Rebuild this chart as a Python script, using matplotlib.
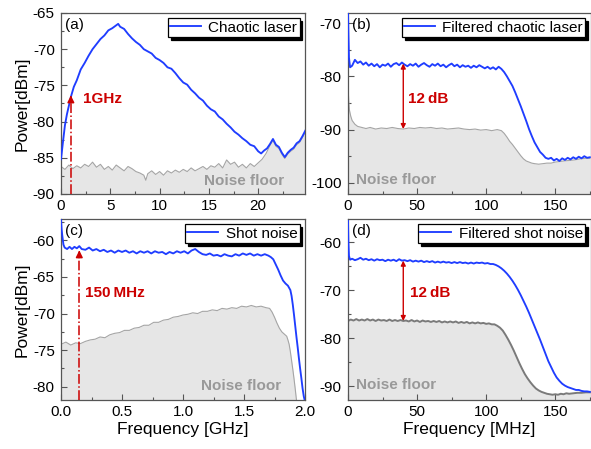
import numpy as np
import matplotlib
matplotlib.use("Agg")
import matplotlib.pyplot as plt
from matplotlib.ticker import MultipleLocator

plt.rcParams['font.family'] = ['Liberation Sans', 'DejaVu Sans']
plt.rcParams['axes.unicode_minus'] = False

# ---------------- data ----------------
a_laser = [(0,-85.2),(0.2,-82.8),(0.4,-80.5),(0.6,-79.0),(0.8,-77.8),(1.0,-76.6),(1.3,-75.2),(1.6,-74.3),
           (2.0,-72.8),(2.4,-71.9),(2.8,-70.9),(3.2,-70.0),(3.6,-69.3),(4.0,-68.6),(4.4,-68.1),(4.8,-67.4),
           (5.2,-67.1),(5.6,-66.7),(5.8,-66.5),(6.0,-66.9),(6.4,-67.2),(6.8,-67.9),(7.2,-68.5),(7.6,-69.0),
           (8.0,-69.4),(8.4,-70.0),(8.8,-70.3),(9.2,-70.6),(9.6,-71.2),(10.0,-71.5),(10.4,-71.9),(10.8,-72.5),
           (11.2,-72.7),(11.6,-73.3),(12.0,-74.0),(12.4,-74.6),(12.8,-74.9),(13.2,-75.6),(13.6,-76.1),(14.0,-76.7),
           (14.4,-77.1),(14.8,-77.8),(15.2,-78.3),(15.6,-78.6),(16.0,-79.3),(16.4,-79.7),(16.8,-80.3),(17.2,-80.8),
           (17.6,-81.4),(18.0,-81.8),(18.4,-82.3),(18.8,-82.7),(19.2,-83.2),(19.6,-83.4),(20.0,-84.1),(20.3,-84.4),
           (20.6,-84.0),(20.9,-83.7),(21.2,-83.1),(21.5,-82.4),(21.8,-83.2),(22.1,-83.5),(22.4,-84.3),(22.7,-84.9),
           (23.0,-84.3),(23.3,-83.9),(23.6,-83.6),(23.9,-83.0),(24.2,-82.7),(24.5,-82.0),(24.8,-81.2)]
a_noise = [(0,-86.2),(0.4,-86.6),(0.8,-86.0),(1.2,-86.5),(1.6,-86.1),(2.0,-86.4),(2.4,-85.9),(2.8,-86.2),
           (3.2,-85.6),(3.6,-86.3),(4.0,-85.9),(4.4,-86.6),(4.8,-86.2),(5.2,-86.7),(5.6,-86.0),(6.0,-86.4),
           (6.4,-86.8),(6.8,-86.2),(7.2,-86.5),(7.6,-86.9),(8.0,-87.1),(8.4,-87.4),(8.6,-88.1),(8.8,-87.2),
           (9.2,-86.8),(9.6,-87.3),(10.0,-86.9),(10.4,-87.4),(10.8,-86.8),(11.2,-87.1),(11.6,-86.7),(12.0,-87.0),
           (12.4,-86.6),(12.8,-86.9),(13.2,-86.4),(13.6,-86.8),(14.0,-86.5),(14.4,-86.2),(14.8,-86.6),(15.2,-86.1),
           (15.6,-86.3),(16.0,-85.8),(16.4,-86.4),(16.8,-85.3),(17.2,-85.9),(17.6,-85.6),(18.0,-86.3),(18.4,-85.9),
           (18.8,-86.4),(19.2,-85.8),(19.6,-86.2),(20.0,-85.7),(20.4,-85.2),(20.8,-84.4),(21.2,-83.3),(21.5,-82.6),
           (21.8,-83.4),(22.1,-83.7),(22.4,-84.5),(22.7,-85.1),(23.0,-84.5),(23.3,-84.1),(23.6,-83.8),(23.9,-83.2),
           (24.2,-82.9),(24.5,-82.2),(24.8,-81.4)]

b_laser = [(0,-68.0),(0.3,-72.0),(0.7,-76.5),(1.5,-78.3),(3,-78.0),(5,-76.9),(7,-77.5),(9,-77.2),(11,-77.8),
           (13,-77.4),(15,-78.0),(17,-77.6),(19,-78.1),(21,-77.7),(23,-78.3),(25,-77.8),(27,-78.0),(29,-77.6),
           (31,-78.2),(33,-77.7),(35,-77.5),(37,-77.9),(39,-77.4),(41,-77.8),(43,-78.1),(45,-77.7),(47,-78.0),
           (49,-77.6),(51,-78.2),(53,-77.8),(55,-77.5),(57,-77.9),(59,-78.2),(61,-77.7),(63,-78.0),(65,-77.6),
           (67,-78.1),(69,-77.8),(71,-78.3),(73,-77.9),(75,-77.6),(77,-78.1),(79,-77.8),(81,-78.3),(83,-77.9),
           (85,-78.2),(87,-78.0),(89,-78.4),(91,-78.0),(93,-78.3),(95,-77.9),(97,-78.2),(99,-78.5),(101,-78.2),
           (103,-78.6),(105,-78.3),(107,-78.7),(109,-78.2),(111,-78.6),(113,-79.2),(115,-80.0),(117,-80.9),
           (119,-81.8),(121,-83.0),(123,-84.3),(125,-85.6),(127,-87.0),(129,-88.4),(131,-89.9),(133,-91.2),
           (135,-92.4),(137,-93.3),(139,-94.2),(141,-94.7),(143,-95.3),(145,-95.5),(147,-95.3),(149,-95.8),
           (151,-95.5),(153,-95.9),(155,-95.4),(157,-95.7),(159,-95.3),(161,-95.6),(163,-95.2),(165,-95.5),
           (167,-95.1),(169,-95.4),(171,-95.0),(173,-95.3),(175,-95.2)]
b_noise = [(0,-81.5),(0.5,-84.5),(1,-86.3),(2,-87.5),(3,-88.3),(5,-89.0),(7,-89.4),(10,-89.6),(13,-89.8),
           (16,-89.6),(20,-89.9),(24,-89.7),(28,-89.8),(32,-89.6),(36,-89.8),(40,-89.9),(44,-89.7),(48,-89.8),
           (52,-89.6),(56,-89.7),(60,-89.6),(64,-89.8),(68,-89.7),(72,-89.9),(76,-89.8),(80,-89.7),(84,-89.9),
           (88,-90.0),(92,-89.9),(96,-90.1),(100,-90.0),(104,-90.2),(108,-90.0),(111,-90.2),(113,-90.7),
           (115,-91.4),(117,-92.2),(119,-92.8),(121,-93.5),(123,-94.2),(125,-94.9),(127,-95.5),(129,-95.9),
           (131,-96.1),(133,-96.3),(135,-96.4),(138,-96.5),(141,-96.4),(144,-96.3),(147,-96.3),(150,-96.1),
           (153,-96.0),(156,-95.9),(160,-95.8),(164,-95.7),(168,-95.5),(172,-95.4),(175,-95.4)]

c_shot = [(0,-57.2),(0.005,-58.5),(0.01,-59.3),(0.02,-60.6),(0.03,-61.0),(0.05,-61.2),(0.07,-60.9),(0.09,-61.2),
          (0.11,-60.9),(0.13,-61.1),(0.15,-60.8),(0.17,-61.2),(0.2,-61.3),(0.23,-61.0),(0.26,-61.4),(0.29,-61.2),
          (0.32,-61.5),(0.35,-61.3),(0.38,-61.6),(0.41,-61.4),(0.44,-61.7),(0.47,-61.4),(0.5,-61.6),(0.53,-61.4),
          (0.56,-61.7),(0.59,-61.5),(0.62,-61.8),(0.65,-61.5),(0.68,-61.7),(0.71,-61.5),(0.74,-61.8),(0.77,-61.5),
          (0.8,-61.7),(0.83,-61.6),(0.86,-61.9),(0.89,-61.6),(0.92,-61.8),(0.95,-61.5),(0.98,-61.7),(1.01,-61.5),
          (1.04,-61.8),(1.07,-61.4),(1.1,-61.2),(1.13,-61.6),(1.16,-61.9),(1.19,-62.0),(1.22,-61.8),(1.25,-62.1),
          (1.28,-62.0),(1.31,-62.2),(1.34,-61.9),(1.37,-62.1),(1.4,-62.2),(1.43,-61.9),(1.46,-62.1),(1.49,-61.8),
          (1.52,-62.0),(1.55,-61.8),(1.58,-62.1),(1.61,-61.9),(1.64,-62.1),(1.67,-61.9),(1.7,-62.1),(1.72,-62.3),
          (1.74,-62.6),(1.76,-63.3),(1.78,-64.0),(1.8,-64.8),(1.82,-65.5),(1.84,-65.9),(1.86,-66.2),(1.88,-66.8),
          (1.89,-67.6),(1.9,-68.8),(1.91,-70.2),(1.92,-71.7),(1.93,-73.2),(1.94,-74.6),(1.95,-76.1),(1.96,-77.5),
          (1.97,-78.8),(1.98,-80.2),(1.99,-81.3),(2.0,-82.0)]
c_noise = [(0,-74.2),(0.04,-73.9),(0.08,-74.3),(0.12,-74.0),(0.16,-74.1),(0.2,-73.8),(0.24,-73.6),(0.28,-73.5),
           (0.32,-73.2),(0.36,-73.3),(0.4,-72.9),(0.44,-72.7),(0.48,-72.6),(0.52,-72.3),(0.56,-72.3),(0.6,-72.0),
           (0.64,-71.9),(0.68,-71.6),(0.72,-71.6),(0.76,-71.2),(0.8,-71.2),(0.84,-70.9),(0.88,-70.8),(0.92,-70.5),
           (0.96,-70.4),(1.0,-70.2),(1.04,-70.1),(1.08,-69.9),(1.12,-70.0),(1.16,-69.7),(1.2,-69.7),(1.24,-69.5),
           (1.28,-69.6),(1.32,-69.3),(1.36,-69.4),(1.4,-69.2),(1.44,-69.3),(1.48,-69.0),(1.52,-69.1),(1.56,-68.9),
           (1.6,-69.1),(1.64,-69.0),(1.68,-69.2),(1.71,-69.3),(1.73,-69.8),(1.75,-70.5),(1.77,-71.3),(1.79,-72.0),
           (1.81,-72.5),(1.83,-72.8),(1.85,-73.1),(1.86,-73.6),(1.87,-74.2),(1.88,-75.2),(1.89,-76.4),(1.9,-77.6),
           (1.91,-78.9),(1.92,-80.3),(1.93,-81.8),(1.94,-83.0)]

d_shot = [(0,-55.5),(0.3,-60.0),(0.7,-62.8),(1.5,-63.6),(3,-63.4),(5,-63.7),(7,-63.5),(9,-63.2),(11,-63.6),
          (13,-63.4),(15,-63.7),(17,-63.5),(19,-63.8),(21,-63.5),(23,-63.7),(25,-63.6),(27,-63.9),(29,-63.6),
          (31,-63.8),(33,-63.6),(35,-63.9),(37,-63.5),(39,-63.8),(41,-63.7),(43,-63.9),(45,-63.7),(47,-64.0),
          (49,-63.8),(51,-64.0),(53,-63.8),(55,-64.1),(57,-63.9),(59,-64.1),(61,-63.9),(63,-64.2),(65,-64.0),
          (67,-64.2),(69,-64.0),(71,-64.2),(73,-64.1),(75,-64.3),(77,-64.1),(79,-64.3),(81,-64.1),(83,-64.3),
          (85,-64.2),(87,-64.4),(89,-64.2),(91,-64.4),(93,-64.2),(95,-64.3),(97,-64.2),(99,-64.4),(101,-64.3),
          (103,-64.5),(105,-64.5),(107,-64.7),(109,-65.0),(111,-65.4),(113,-65.9),(115,-66.5),(117,-67.2),
          (119,-68.0),(121,-68.9),(123,-69.9),(125,-71.0),(127,-72.2),(129,-73.4),(131,-74.7),(133,-76.1),
          (135,-77.5),(137,-78.9),(139,-80.3),(141,-81.8),(143,-83.3),(145,-84.8),(147,-86.0),(149,-87.2),
          (151,-88.2),(153,-88.9),(155,-89.5),(157,-89.9),(159,-90.2),(161,-90.4),(163,-90.6),(165,-90.8),
          (167,-90.8),(169,-91.0),(171,-91.1),(173,-91.1),(175,-91.2)]
d_noise = [(0,-76.4),(2,-76.1),(4,-76.3),(6,-76.0),(8,-76.3),(10,-76.1),(12,-76.3),(14,-76.0),(16,-76.3),
           (18,-76.1),(20,-76.4),(22,-76.1),(24,-76.3),(26,-76.2),(28,-76.4),(30,-76.1),(32,-76.4),(34,-76.2),
           (36,-76.4),(38,-76.2),(40,-76.4),(42,-76.3),(44,-76.5),(46,-76.2),(48,-76.5),(50,-76.3),(52,-76.6),
           (54,-76.3),(56,-76.5),(58,-76.4),(60,-76.6),(62,-76.4),(64,-76.6),(66,-76.4),(68,-76.7),(70,-76.5),
           (72,-76.7),(74,-76.5),(76,-76.7),(78,-76.5),(80,-76.8),(82,-76.6),(84,-76.8),(86,-76.6),(88,-76.9),
           (90,-76.7),(92,-76.9),(94,-76.7),(96,-76.9),(98,-76.8),(100,-77.0),(102,-76.9),(104,-77.1),(106,-77.1),
           (108,-77.4),(110,-77.8),(112,-78.4),(114,-79.3),(116,-80.3),(118,-81.4),(120,-82.6),(122,-83.9),
           (124,-85.2),(126,-86.4),(128,-87.5),(130,-88.4),(132,-89.2),(134,-89.9),(136,-90.5),(138,-90.9),
           (140,-91.2),(142,-91.4),(144,-91.6),(146,-91.7),(148,-91.8),(150,-91.7),(152,-91.8),(154,-91.6),
           (156,-91.7),(158,-91.5),(160,-91.6),(163,-91.5),(166,-91.4),(169,-91.4),(172,-91.3),(175,-91.3)]

legend_labels = ["Chaotic laser", "Filtered chaotic laser", "Shot noise", "Filtered shot noise"]
panel_labels = ["(a)", "(b)", "(c)", "(d)"]

# ---------------- style ----------------
BLUE = '#1f3dff'
RED = '#cc0000'
FILL = '#e6e6e6'
SPINE = '#555555'
TXTGRAY = '#999999'

fig = plt.figure(figsize=(5.91, 4.49), dpi=100)
W, H = 591, 449
def axes_px(l, t, r, b):
    return fig.add_axes([l / W, 1 - b / H, (r - l) / W, (b - t) / H])

ax_a = axes_px(61, 13, 305, 194)
ax_b = axes_px(348, 13, 590.5, 194)
ax_c = axes_px(61, 219, 305, 400)
ax_d = axes_px(348, 219, 590.5, 400)

setup = [
    (ax_a, a_laser, a_noise, (0, 24.75), (-90, -65), 5, 2.5, 5, 2.5, '#a5a5a5', 0.8),
    (ax_b, b_laser, b_noise, (0, 175.5), (-102.1, -68.1), 50, 25, 10, 5, '#a5a5a5', 0.8),
    (ax_c, c_shot, c_noise, (0, 2.0), (-81.8, -57.1), 0.5, 0.25, 5, 2.5, '#a5a5a5', 0.8),
    (ax_d, d_shot, d_noise, (0, 175.5), (-92.9, -55.1), 50, 25, 10, 5, '#7a7a7a', 1.4),
]

for i, (ax, sig, noi, xl, yl, xmaj, xmin, ymaj, ymin, ncol, nlw) in enumerate(setup):
    sx, sy = zip(*sig)
    nx, ny = zip(*noi)
    ax.fill_between(nx, ny, yl[0] - 5, color=FILL, lw=0, zorder=1)
    ax.plot(nx, ny, color=ncol, lw=nlw, zorder=2)
    ax.plot(sx, sy, color=BLUE, lw=1.35, zorder=3, label=legend_labels[i])
    ax.set_xlim(*xl)
    ax.set_ylim(*yl)
    ax.xaxis.set_major_locator(MultipleLocator(xmaj))
    ax.xaxis.set_minor_locator(MultipleLocator(xmin))
    ax.yaxis.set_major_locator(MultipleLocator(ymaj))
    ax.yaxis.set_minor_locator(MultipleLocator(ymin))
    ax.tick_params(which='both', direction='in', colors=SPINE, labelcolor='black',
                   labelsize=11, top=False, right=False)
    ax.tick_params(axis='y', pad=4.5)
    ax.tick_params(axis='x', pad=3.5)
    ax.tick_params(which='major', length=4, width=0.8)
    ax.tick_params(which='minor', length=2.5, width=0.8)
    for s in ax.spines.values():
        s.set_color(SPINE)
        s.set_linewidth(0.9)
    leg = ax.legend(loc='upper right', fontsize=11, frameon=True, fancybox=False,
                    shadow={'color': 'black', 'alpha': 1.0}, edgecolor='black',
                    handlelength=2.0, handletextpad=0.5, borderpad=0.15,
                    borderaxespad=0.35, framealpha=1)
    leg.get_frame().set_linewidth(0.9)
    ax.text(0.018, 0.975, panel_labels[i], transform=ax.transAxes, ha='left', va='top', fontsize=11)

ax_a.set_ylabel("Power[dBm]", fontsize=12.5, labelpad=2)
ax_c.set_ylabel("Power[dBm]", fontsize=12.5, labelpad=2)
ax_c.set_xlabel("Frequency [GHz]", fontsize=12.5, labelpad=2)
ax_d.set_xlabel("Frequency [MHz]", fontsize=12.5, labelpad=2)

# Noise floor labels
ax_a.text(14.5, -88.2, "Noise floor", color=TXTGRAY, fontsize=11, fontweight='bold', va='center', zorder=5)
ax_b.text(5.5, -99.4, "Noise floor", color=TXTGRAY, fontsize=11, fontweight='bold', va='center', zorder=5)
ax_c.text(1.15, -79.9, "Noise floor", color=TXTGRAY, fontsize=11, fontweight='bold', va='center', zorder=5)
ax_d.text(6.0, -89.8, "Noise floor", color=TXTGRAY, fontsize=11, fontweight='bold', va='center', zorder=5)

# (a) 1 GHz marker
ax_a.plot([1, 1], [-90, -76.8], color=RED, lw=1.1, ls='-.', zorder=6)
ax_a.annotate('', xy=(1, -76.0), xytext=(1, -77.2),
              arrowprops=dict(arrowstyle='-|>', color=RED, lw=1.1, mutation_scale=10), zorder=6)
ax_a.text(2.2, -76.9, "1GHz", color=RED, fontsize=11, fontweight='bold', va='center', zorder=6)

# (c) 150 MHz marker
ax_c.plot([0.15, 0.15], [-81.8, -61.8], color=RED, lw=1.1, ls='-.', zorder=6)
ax_c.annotate('', xy=(0.15, -61.0), xytext=(0.15, -62.2),
              arrowprops=dict(arrowstyle='-|>', color=RED, lw=1.1, mutation_scale=10), zorder=6)
ax_c.text(0.2, -67.2, "150\u2009MHz", color=RED, fontsize=11, fontweight='bold', va='center', zorder=6)

# (b), (d) 12 dB arrows
ax_b.annotate('', xy=(40, -77.6), xytext=(40, -89.9),
              arrowprops=dict(arrowstyle='<|-|>', color=RED, lw=1.0, mutation_scale=7,
                              shrinkA=0, shrinkB=0), zorder=6)
ax_b.text(43.4, -84.2, "12\u2009dB", color=RED, fontsize=11, fontweight='bold', va='center', zorder=6)
ax_d.annotate('', xy=(40, -63.8), xytext=(40, -76.4),
              arrowprops=dict(arrowstyle='<|-|>', color=RED, lw=1.0, mutation_scale=7,
                              shrinkA=0, shrinkB=0), zorder=6)
ax_d.text(44.6, -70.6, "12\u2009dB", color=RED, fontsize=11, fontweight='bold', va='center', zorder=6)

fig.savefig("out.png", dpi=100)
